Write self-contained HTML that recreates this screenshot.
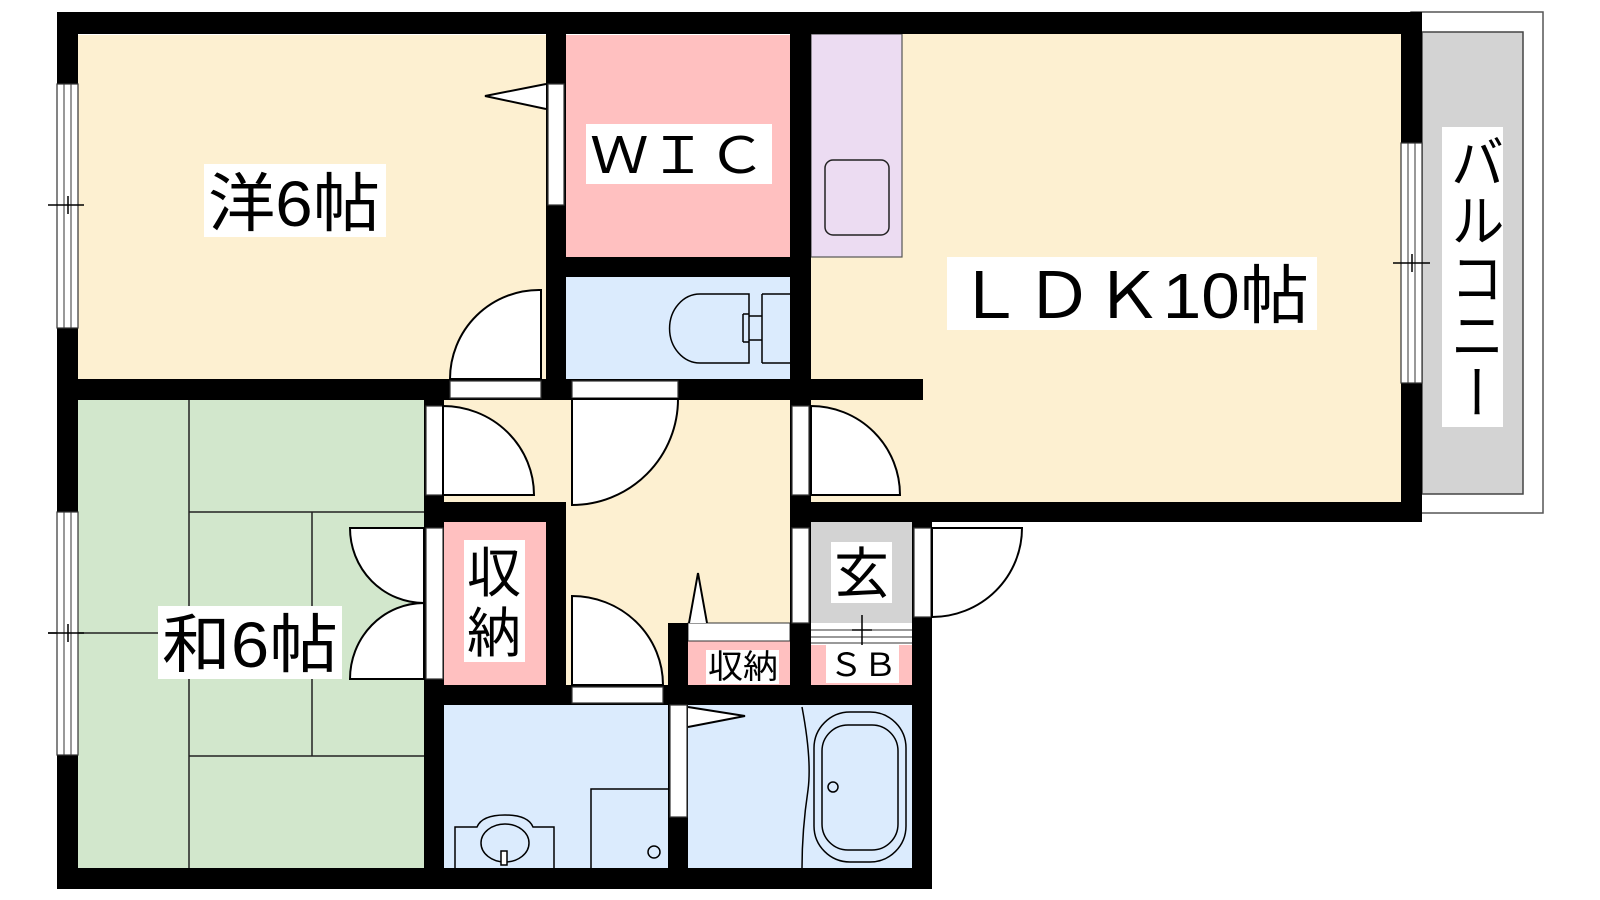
<!DOCTYPE html>
<html><head><meta charset="utf-8"><style>
html,body{margin:0;padding:0;background:#fff;}
svg{display:block;}
text{font-family:"Liberation Sans","Noto Sans CJK JP",sans-serif;fill:#000;}
</style></head><body>
<svg width="1600" height="900" viewBox="0 0 1600 900" xmlns="http://www.w3.org/2000/svg">
<!-- balcony -->
<rect x="1411" y="12" width="132" height="501" fill="#fff" stroke="#555" stroke-width="1.5"/>
<rect x="1422" y="32" width="101" height="462" fill="#d3d3d3" stroke="#444" stroke-width="1.5"/>
<!-- rooms -->
<rect x="78" y="35" width="468" height="344" fill="#fdf0d1"/>
<rect x="566" y="35" width="224" height="222" fill="#ffc0c0"/>
<rect x="566" y="277" width="224" height="102" fill="#dbebfd"/>
<rect x="811" y="33" width="590" height="469" fill="#fdf0d1"/>
<rect x="811" y="34" width="91" height="223" fill="#ecdcf2" stroke="#555" stroke-width="1.2"/>
<rect x="825" y="160" width="64" height="75" rx="8" fill="none" stroke="#222" stroke-width="1.5"/>
<rect x="78" y="400" width="346" height="468" fill="#d2e7cc"/>
<rect x="443" y="399" width="347" height="103" fill="#fdf0d1"/>
<rect x="566" y="399" width="224" height="290" fill="#fdf0d1"/>
<rect x="444" y="522" width="102" height="163" fill="#ffc0c0"/>
<rect x="811" y="522" width="101" height="101" fill="#d3d3d3"/>
<rect x="688" y="641" width="102" height="44" fill="#ffc0c0"/>
<rect x="688" y="623" width="102" height="18" fill="#fff" stroke="#333" stroke-width="1"/>
<rect x="811" y="645" width="101" height="40" fill="#ffc0c0"/>
<rect x="811" y="623" width="101" height="22" fill="#fff"/>
<line x1="811" y1="630" x2="912" y2="630" stroke="#333" stroke-width="1"/>
<line x1="811" y1="637" x2="912" y2="637" stroke="#333" stroke-width="1"/>
<line x1="811" y1="643" x2="912" y2="643" stroke="#333" stroke-width="1"/>
<line x1="862" y1="615" x2="862" y2="648" stroke="#000" stroke-width="1.5"/>
<line x1="852" y1="630" x2="872" y2="630" stroke="#000" stroke-width="1.5"/>
<rect x="444" y="705" width="224" height="163" fill="#dbebfd"/>
<rect x="688" y="705" width="224" height="163" fill="#dbebfd"/>
<!-- tatami lines -->
<g stroke="#222" stroke-width="1.5" fill="none">
<line x1="189" y1="400" x2="189" y2="868"/>
<line x1="189" y1="512" x2="424" y2="512"/>
<line x1="189" y1="756" x2="424" y2="756"/>
<line x1="312" y1="512" x2="312" y2="756"/>
<line x1="48" y1="633" x2="189" y2="633"/>
</g>
<!-- walls -->
<g fill="#000">
<rect x="57" y="12" width="1365" height="22"/>
<rect x="57" y="12" width="21" height="877"/>
<rect x="57" y="868" width="875" height="21"/>
<rect x="1401" y="12" width="21" height="510"/>
<rect x="790" y="502" width="632" height="20"/>
<rect x="912" y="502" width="20" height="387"/>
<rect x="546" y="12" width="20" height="378"/>
<rect x="790" y="12" width="21" height="510"/>
<rect x="546" y="257" width="265" height="20"/>
<rect x="57" y="379" width="866" height="21"/>
<rect x="424" y="379" width="20" height="510"/>
<rect x="424" y="502" width="142" height="20"/>
<rect x="546" y="502" width="20" height="203"/>
<rect x="424" y="685" width="508" height="20"/>
<rect x="668" y="623" width="20" height="266"/>
<rect x="790" y="502" width="21" height="203"/>
</g>
<!-- openings / white strips -->
<g fill="#fff" stroke="#333" stroke-width="1.2">
<rect x="57" y="84" width="21" height="244"/>
<rect x="57" y="512" width="21" height="243"/>
<rect x="1401" y="143" width="21" height="240"/>
<rect x="548" y="84" width="16" height="121"/>
<rect x="450" y="381" width="91" height="17"/>
<rect x="572" y="381" width="106" height="17"/>
<rect x="426" y="406" width="17" height="89"/>
<rect x="426" y="528" width="17" height="151"/>
<rect x="792" y="406" width="17" height="89"/>
<rect x="792" y="528" width="17" height="95"/>
<rect x="572" y="687" width="91" height="16"/>
<rect x="670" y="705" width="17" height="112"/>
<rect x="914" y="528" width="17" height="89"/>
</g>
<g stroke="#333" stroke-width="1" fill="none">
<line x1="64" y1="84" x2="64" y2="328"/><line x1="71" y1="84" x2="71" y2="328"/>
<line x1="64" y1="512" x2="64" y2="755"/><line x1="71" y1="512" x2="71" y2="755"/>
<line x1="1408" y1="143" x2="1408" y2="383"/><line x1="1415" y1="143" x2="1415" y2="383"/>
</g>
<g stroke="#000" stroke-width="1.5">
<line x1="48" y1="205" x2="84" y2="205"/><line x1="68" y1="196" x2="68" y2="214"/>
<line x1="48" y1="633" x2="84" y2="633"/><line x1="68" y1="624" x2="68" y2="642"/>
<line x1="1393" y1="263" x2="1430" y2="263"/><line x1="1412" y1="254" x2="1412" y2="272"/>
</g>
<!-- doors -->
<g fill="#fff" stroke="#000" stroke-width="2">
<path d="M541 290 L541 379 L450 379 A89 89 0 0 1 541 290 Z"/>
<path d="M572 399 L678 399 A106 106 0 0 1 572 505 Z"/>
<path d="M443 406 L443 495 L534 495 A91 89 0 0 0 443 406 Z"/>
<path d="M811 406 L811 495 L900 495 A89 89 0 0 0 811 406 Z"/>
<path d="M424 528 L350 528 A74 75 0 0 0 424 603 Z"/>
<path d="M424 603 A74 76 0 0 0 350 679 L424 679 Z"/>
<path d="M572 596 L572 685 L663 685 A91 89 0 0 0 572 596 Z"/>
<path d="M932 528 L1022 528 A90 89 0 0 1 932 617 Z"/>
<path d="M546 84 L485 96 L546 109" fill="#fff"/>
<path d="M689 623 L698 573 L707 623" fill="#fff"/>
<path d="M688 707 L745 716 L688 727" fill="#fff"/>
</g>
<!-- toilet -->
<g fill="none" stroke="#000" stroke-width="1.5">
<path d="M749 294 L700 294 A30 34 0 0 0 700 363 L749 363 Z"/>
<path d="M743 314 L749 314 M743 342 L749 342 M743 314 L743 342"/>
<path d="M762 294 L790 294 M762 363 L790 363 M762 294 L762 363"/>
<line x1="749" y1="316" x2="762" y2="316"/><line x1="749" y1="340" x2="762" y2="340"/>
<!-- washbasin -->
<path d="M455 868 L455 827 L477 827 Q482 815 505 815 Q528 815 533 827 L554 827 L554 868"/>
<ellipse cx="505" cy="843" rx="24" ry="19"/>
<rect x="501" y="851" width="6" height="14" fill="#fff"/>
<!-- washer -->
<path d="M591 868 L591 789 L668 789"/>
<circle cx="654" cy="852" r="6"/>
<!-- tub -->
<path d="M802 707 Q812 760 808 790 Q802 830 802 868"/>
<rect x="814" y="712" width="92" height="150" rx="36"/>
<rect x="822" y="725" width="76" height="125" rx="26"/>
<circle cx="833" cy="787" r="5"/>
</g>
<!-- labels -->
<rect x="204" y="164" width="182" height="73" fill="#fff"/>
<text x="208" y="226" font-size="64" textLength="172" lengthAdjust="spacingAndGlyphs">洋6帖</text>
<rect x="586" y="124" width="186" height="60" fill="#fff"/>
<text x="590" y="173" font-size="50" textLength="176" lengthAdjust="spacingAndGlyphs">ＷＩＣ</text>
<rect x="947" y="257" width="370" height="73" fill="#fff"/>
<text x="955" y="318" font-size="64" textLength="354" lengthAdjust="spacingAndGlyphs">ＬＤＫ10帖</text>
<rect x="158" y="606" width="184" height="73" fill="#fff"/>
<text x="162" y="667" font-size="64" textLength="176" lengthAdjust="spacingAndGlyphs">和6帖</text>
<rect x="464" y="540" width="61" height="122" fill="#fff"/>
<text x="467" y="592" font-size="54">収</text>
<text x="467" y="652" font-size="54">納</text>
<rect x="706" y="650" width="73" height="34" fill="#fff"/>
<text x="708" y="678" font-size="33" textLength="70" lengthAdjust="spacingAndGlyphs">収納</text>
<rect x="831" y="542" width="61" height="61" fill="#fff"/>
<text x="834" y="593" font-size="55">玄</text>
<rect x="826" y="645" width="73" height="38" fill="#fff"/>
<text x="829" y="676" font-size="32" textLength="68" lengthAdjust="spacingAndGlyphs">ＳＢ</text>
<rect x="1442" y="127" width="61" height="300" fill="#fff"/>
<text x="1472" y="133" font-size="54" style="writing-mode:vertical-rl;glyph-orientation-vertical:0" textLength="288" lengthAdjust="spacingAndGlyphs">バルコニー</text>
</svg>
</body></html>
